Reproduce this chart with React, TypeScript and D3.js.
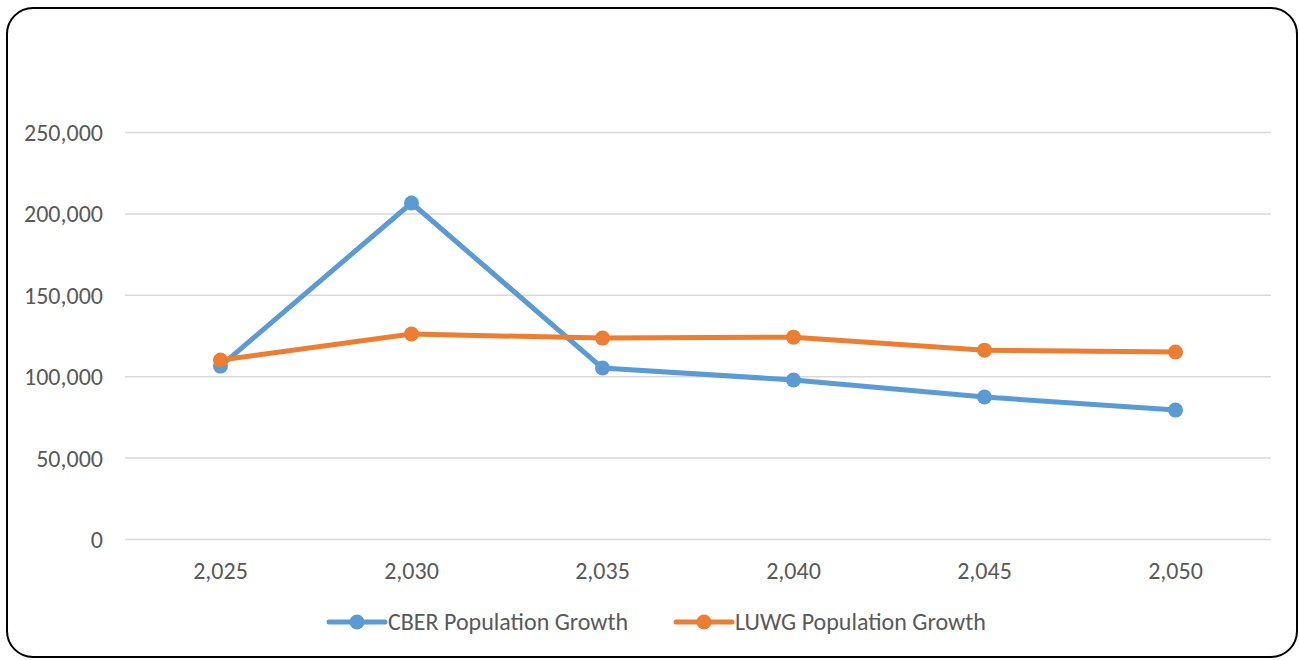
import React from "react";
import * as d3 from "d3";

const years = [2025, 2030, 2035, 2040, 2045, 2050];
const cberValues = [106500, 206700, 105300, 98000, 87500, 79500];
const luwgValues = [110200, 126200, 123700, 124300, 116300, 115200];
const yTicks = [0, 50000, 100000, 150000, 200000, 250000];
const seriesNames = ["CBER Population Growth", "LUWG Population Growth"];
const seriesColors = ["#5B9BD5", "#ED7D31"];

const W = 1299;
const H = 660;
const FONT = "Carlito, Calibri, 'Open Sans', 'Noto Sans', sans-serif";
const FS = 24;

export default function App() {
  const x = d3.scaleBand<number>().domain(years).range([125, 1271]);
  const y = d3.scaleLinear().domain([0, 250000]).range([539.5, 132.5]);
  const fmt = d3.format(",");
  const line = d3
    .line<number>()
    .x((_, i) => (x(years[i]) as number) + x.bandwidth() / 2)
    .y((v) => y(v));
  const series = [cberValues, luwgValues];

  const legendItems = [
    { x: 329, name: seriesNames[0], color: seriesColors[0] },
    { x: 676, name: seriesNames[1], color: seriesColors[1] },
  ];

  return (
    <svg
      width={W}
      height={H}
      style={{ position: "absolute", left: 0, top: 0 }}
      xmlns="http://www.w3.org/2000/svg"
    >
      <rect x={0} y={0} width={W} height={H} fill="#fff" />
      <rect
        x={7}
        y={8}
        width={1290}
        height={649}
        rx={26}
        ry={26}
        fill="#fff"
        stroke="#000"
        strokeWidth={2}
      />
      {yTicks.map((t) => (
        <g key={t}>
          <line
            x1={125}
            x2={1271}
            y1={y(t)}
            y2={y(t)}
            stroke="#d9d9d9"
            strokeWidth={1.5}
          />
          <text
            x={103}
            y={y(t)}
            dy="0.35em"
            textAnchor="end"
            fontFamily={FONT}
            fontSize={FS}
            fill="#595959"
          >
            {fmt(t)}
          </text>
        </g>
      ))}
      {years.map((yr) => (
        <text
          key={yr}
          x={(x(yr) as number) + x.bandwidth() / 2}
          y={571}
          dy="0.35em"
          textAnchor="middle"
          fontFamily={FONT}
          fontSize={FS}
          fill="#595959"
        >
          {fmt(yr)}
        </text>
      ))}
      {series.map((vals, si) => (
        <g key={si}>
          <path
            d={line(vals) || ""}
            fill="none"
            stroke={seriesColors[si]}
            strokeWidth={5}
            strokeLinejoin="round"
            strokeLinecap="round"
          />
          {vals.map((v, i) => (
            <circle
              key={i}
              cx={(x(years[i]) as number) + x.bandwidth() / 2}
              cy={y(v)}
              r={7.5}
              fill={seriesColors[si]}
            />
          ))}
        </g>
      ))}
      {legendItems.map((it) => (
        <g key={it.name}>
          <line
            x1={it.x}
            x2={it.x + 56}
            y1={622}
            y2={622}
            stroke={it.color}
            strokeWidth={5}
            strokeLinecap="round"
          />
          <circle cx={it.x + 28} cy={622} r={7.5} fill={it.color} />
          <text
            x={it.x + 59}
            y={622}
            dy="0.35em"
            fontFamily={FONT}
            fontSize={FS}
            fill="#595959"
          >
            {it.name}
          </text>
        </g>
      ))}
    </svg>
  );
}
